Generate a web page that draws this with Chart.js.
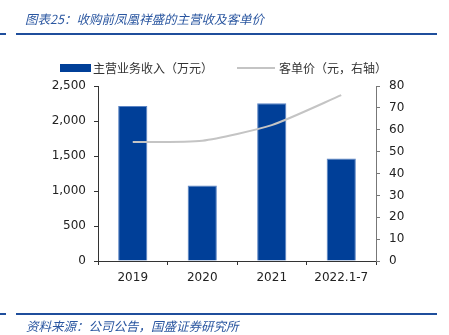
<!DOCTYPE html>
<html><head><meta charset="utf-8">
<script src="https://cdn.jsdelivr.net/npm/chart.js@4/dist/chart.umd.min.js"></script>
<style>
html,body{margin:0;padding:0;background:#fff;}
#wrap{position:relative;width:449px;height:335px;overflow:hidden;font-family:"Noto Sans CJK SC",sans-serif;}
canvas{position:absolute;left:0;top:0;}
.t{position:absolute;font-style:italic;color:#2a56a0;white-space:nowrap;}
.rule{position:absolute;height:2px;background:#1f4e9c;}
.lg{position:absolute;font-size:12px;color:#333;white-space:nowrap;}
</style></head><body>
<div id="wrap">
<canvas id="c" width="449" height="335"></canvas>
<div class="t" style="left:25px;top:9px;font-size:12.5px;">图表25：收购前凤凰祥盛的主营收及客单价</div>
<div class="rule" style="left:0;width:6px;top:33px;"></div>
<div class="rule" style="left:16px;width:421px;top:33px;"></div>
<div class="rule" style="left:0;width:6px;top:313px;"></div>
<div class="rule" style="left:16px;width:421px;top:313px;"></div>
<div class="t" style="left:26px;top:316px;font-size:12.5px;">资料来源：公司公告，国盛证券研究所</div>
<div style="position:absolute;left:60px;top:64px;width:31px;height:8px;background:#003f98;"></div>
<div class="lg" style="left:93px;top:59px;">主营业务收入（万元）</div>
<div style="position:absolute;left:237px;top:67px;width:38px;height:2px;background:#c4c4c4;"></div>
<div class="lg" style="left:279px;top:59px;">客单价（元，右轴）</div>
</div>
<script>
const categories = ['2019', '2020', '2021', '2022.1-7'];
const revenue = [2215, 1080, 2255, 1465];      // 主营业务收入（万元）
const unitPrice = [54.4, 55.0, 62.1, 75.8];   // 客单价（元）
const leftTicks = [0, 500, 1000, 1500, 2000, 2500];
const rightTicks = [0, 10, 20, 30, 40, 50, 60, 70, 80];

const tickFont = {family: 'DejaVu Sans', size: 12};
new Chart(document.getElementById('c'), {
  data: {
    labels: categories,
    datasets: [
      {type: 'line', label: '客单价（元，右轴）', data: unitPrice, yAxisID: 'y1',
       borderColor: '#c4c4c4', borderWidth: 2, pointRadius: 0, tension: 0.2, order: 0},
      {type: 'bar', label: '主营业务收入（万元）', data: revenue, yAxisID: 'y',
       backgroundColor: '#003f98', borderColor: '#5b84c4', borderWidth: {left:1,right:1,top:1,bottom:0},
       barPercentage: 0.42, categoryPercentage: 1, order: 1}
    ]
  },
  options: {
    responsive: false, animation: false,
    layout: {padding: {top: 86, bottom: 0, left: 0, right: 0}},
    plugins: {legend: {display: false}, tooltip: {enabled: false}},
    scales: {
      x: {
        offset: true,
        grid: {offset: true, drawOnChartArea: false, drawTicks: true, tickLength: 4, color: '#333'},
        border: {color: '#333', width: 1},
        ticks: {font: tickFont, color: '#222', padding: 6, maxRotation: 0},
        afterFit: s => { s.height = 74; }
      },
      y: {
        position: 'left', min: 0, max: 2500,
        afterBuildTicks: s => { s.ticks = leftTicks.map(v => ({value: v})); },
        grid: {drawOnChartArea: false, tickLength: 4, color: '#333'},
        border: {color: '#333', width: 1},
        ticks: {font: tickFont, color: '#222', padding: 8,
                callback: v => v.toLocaleString('en-US')},
        afterFit: s => { s.width = 98; }
      },
      y1: {
        position: 'right', min: 0, max: 80,
        afterBuildTicks: s => { s.ticks = rightTicks.map(v => ({value: v})); },
        grid: {drawOnChartArea: false, tickLength: 4, color: '#777'},
        border: {color: '#777', width: 1},
        ticks: {font: tickFont, color: '#222', padding: 9},
        afterFit: s => { s.width = 73; }
      }
    }
  }
});
</script>
</body></html>
